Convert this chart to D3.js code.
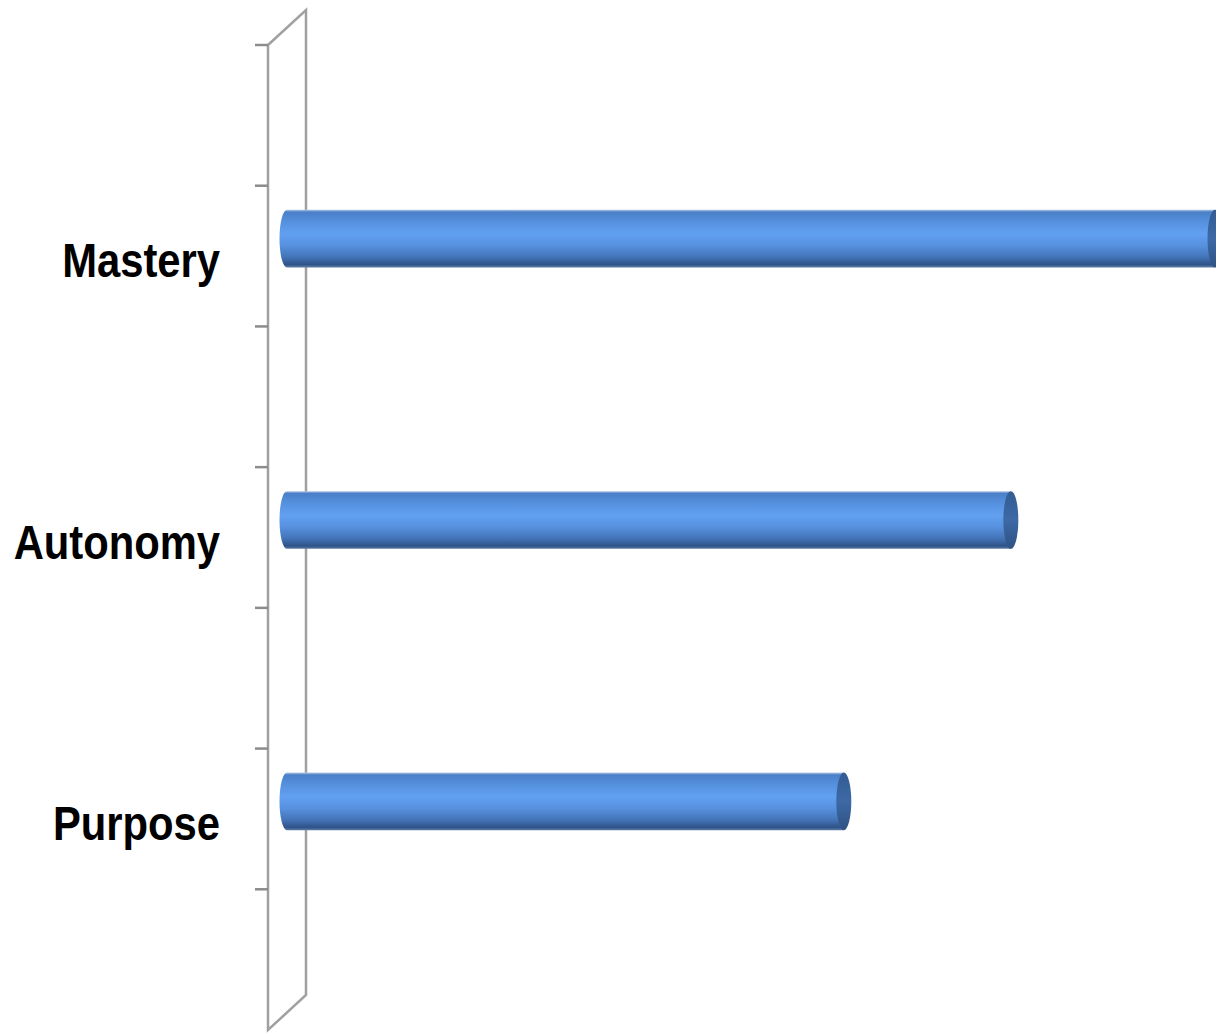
<!DOCTYPE html>
<html>
<head>
<meta charset="utf-8">
<script src="https://cdn.jsdelivr.net/npm/d3@7"></script>
<style>
  html, body { margin: 0; padding: 0; background: #fff; overflow: hidden; }
  svg { display: block; }
</style>
</head>
<body>
<div id="chart"></div>
<script>
// Category slots, top to bottom (blank slots hold no bar and no label)
const categories = ["", "Mastery", "", "Autonomy", "", "Purpose", ""];
const values = [null, 50, null, 39, null, 30, null];

const width = 1216, height = 1034;

// Front edge of the category wall and the 3D depth offset
const wallX = 268, wallTop = 45, wallBottom = 1030;
const depth = { dx: 38, dy: -35 };

const svg = d3.select("#chart").append("svg")
  .attr("width", width).attr("height", height);

const y = d3.scaleBand()
  .domain(d3.range(categories.length))
  .range([wallTop, wallBottom])
  .paddingInner(0).paddingOuter(0);

const x = d3.scaleLinear()
  .domain([0, 50])
  .range([wallX + depth.dx / 2, 1215]);

// Cylinder shading: light rim on top, bright band, dark underside
const defs = svg.append("defs");
const grad = defs.append("linearGradient")
  .attr("id", "cyl").attr("x1", 0).attr("y1", 0).attr("x2", 0).attr("y2", 1);
[
  [0.00, "#b3c9e6"],
  [0.04, "#4a7fc8"],
  [0.20, "#5590dd"],
  [0.42, "#62a0f1"],
  [0.62, "#5791df"],
  [0.82, "#4374b8"],
  [0.95, "#2f5388"],
  [1.00, "#5f7ea8"]
].forEach(([o, c]) => grad.append("stop").attr("offset", o).attr("stop-color", c));

const capGrad = defs.append("linearGradient")
  .attr("id", "cap").attr("x1", 0).attr("y1", 0).attr("x2", 0).attr("y2", 1);
[
  [0.00, "#345c92"],
  [0.5, "#3d69a6"],
  [1.00, "#2f5283"]
].forEach(([o, c]) => capGrad.append("stop").attr("offset", o).attr("stop-color", c));

// Category wall (parallelogram)
const wall = svg.append("g")
  .attr("fill", "none").attr("stroke", "#a0a0a0").attr("stroke-width", 2.5);
wall.append("path")
  .attr("d", d3.line()([
    [wallX, wallTop],
    [wallX + depth.dx, wallTop + depth.dy],
    [wallX + depth.dx, wallBottom + depth.dy],
    [wallX, wallBottom],
    [wallX, wallTop]
  ]));

// Tick marks at the top of each category slot
wall.selectAll("line.tick")
  .data(d3.range(categories.length))
  .join("line")
  .attr("class", "tick")
  .attr("x1", wallX - 13).attr("x2", wallX)
  .attr("y1", d => y(d)).attr("y2", d => y(d))
  .attr("stroke", "#8c8c8c");

// Category labels, set in a condensed bold face
svg.append("g")
  .selectAll("text")
  .data(categories.map((c, i) => ({ c, i })).filter(d => d.c))
  .join("text")
  .attr("transform", d => `translate(220,${y(d.i) + y.bandwidth() / 2 + 21}) scale(0.87,1)`)
  .attr("text-anchor", "end")
  .attr("font-family", "'Liberation Sans', Arial, sans-serif")
  .attr("font-weight", "bold")
  .attr("font-size", 48)
  .attr("fill", "#000")
  .text(d => d.c);

// Cylinder bars, centred half-way into the depth
const barH = y.bandwidth() * 0.41;
const rx = 7.5;
const bars = svg.append("g")
  .selectAll("g")
  .data(values.map((v, i) => ({ v, i })).filter(d => d.v != null))
  .join("g")
  .attr("transform", d => `translate(0,${y(d.i) + y.bandwidth() / 2 + depth.dy / 2 - barH / 2})`);

bars.append("path")
  .attr("d", d => {
    const x0 = x(0), x1 = x(d.v), h = barH;
    return `M${x0},0 L${x1},0 L${x1},${h} L${x0},${h} A${rx},${h / 2} 0 0 1 ${x0},0 Z`;
  })
  .attr("fill", "url(#cyl)");

bars.append("ellipse")
  .attr("cx", d => x(d.v))
  .attr("cy", barH / 2)
  .attr("rx", rx)
  .attr("ry", barH / 2)
  .attr("fill", "url(#cap)");
</script>
</body>
</html>
